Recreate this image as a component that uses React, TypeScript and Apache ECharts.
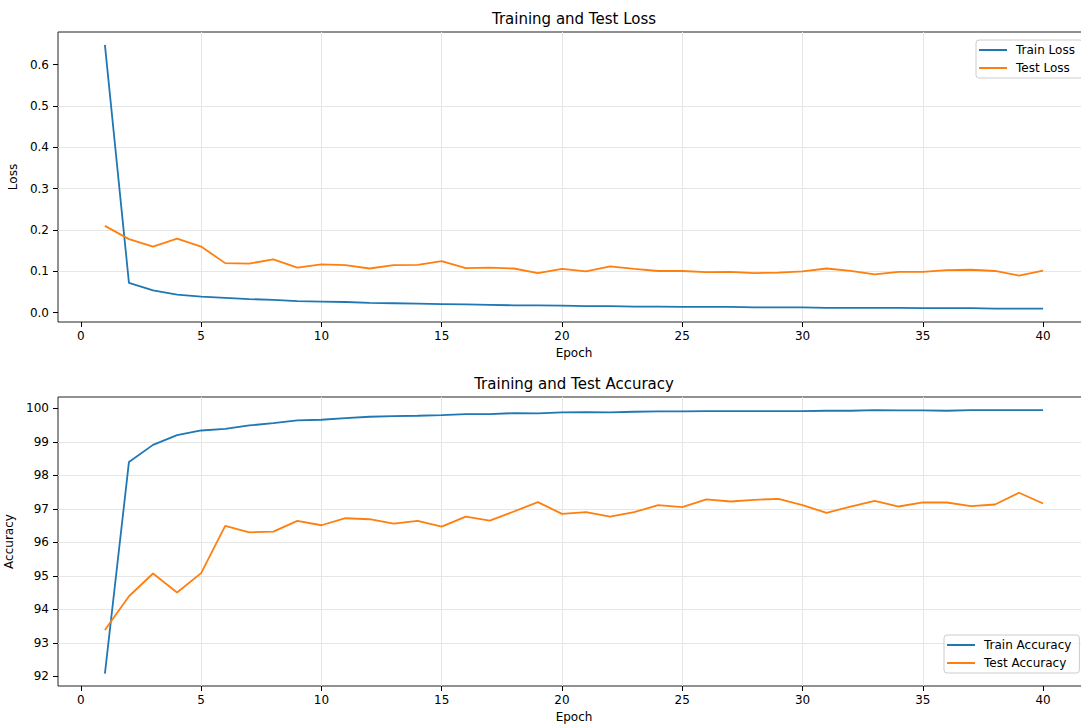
import React, { useEffect, useRef } from "react";
import * as echarts from "echarts";

const epochs = [1, 2, 3, 4, 5, 6, 7, 8, 9, 10, 11, 12, 13, 14, 15, 16, 17, 18, 19, 20, 21, 22, 23, 24, 25, 26, 27, 28, 29, 30, 31, 32, 33, 34, 35, 36, 37, 38, 39, 40];

const trainLoss = [0.648, 0.072, 0.054, 0.044, 0.039, 0.036, 0.033, 0.031, 0.028, 0.027, 0.026, 0.024, 0.023, 0.022, 0.021, 0.020, 0.019, 0.018, 0.018, 0.017, 0.016, 0.016, 0.015, 0.015, 0.014, 0.014, 0.014, 0.013, 0.013, 0.013, 0.012, 0.012, 0.012, 0.012, 0.011, 0.011, 0.011, 0.010, 0.010, 0.010];
const testLoss = [0.210, 0.178, 0.160, 0.179, 0.160, 0.120, 0.119, 0.129, 0.109, 0.117, 0.115, 0.107, 0.115, 0.116, 0.125, 0.108, 0.109, 0.107, 0.096, 0.106, 0.100, 0.112, 0.106, 0.101, 0.101, 0.098, 0.099, 0.096, 0.097, 0.100, 0.107, 0.101, 0.093, 0.099, 0.099, 0.103, 0.104, 0.101, 0.090, 0.102];

const trainAcc = [92.08, 98.40, 98.91, 99.20, 99.34, 99.39, 99.49, 99.56, 99.64, 99.66, 99.71, 99.75, 99.77, 99.78, 99.80, 99.83, 99.83, 99.86, 99.85, 99.88, 99.89, 99.88, 99.90, 99.91, 99.91, 99.92, 99.92, 99.92, 99.92, 99.92, 99.93, 99.93, 99.95, 99.94, 99.94, 99.93, 99.95, 99.95, 99.95, 99.95];
const testAcc = [93.38, 94.39, 95.07, 94.50, 95.08, 96.49, 96.30, 96.32, 96.64, 96.51, 96.72, 96.69, 96.56, 96.64, 96.47, 96.77, 96.65, 96.92, 97.20, 96.85, 96.90, 96.77, 96.90, 97.11, 97.05, 97.28, 97.22, 97.27, 97.30, 97.11, 96.88, 97.07, 97.24, 97.07, 97.19, 97.19, 97.08, 97.13, 97.48, 97.16];

const xTicks = [0, 5, 10, 15, 20, 25, 30, 35, 40];
const lossTicks = [0, 0.1, 0.2, 0.3, 0.4, 0.5, 0.6];
const accTicks = [92, 93, 94, 95, 96, 97, 98, 99, 100];

const FONT = "DejaVu Sans";
const BLUE = "#1f77b4";
const ORANGE = "#ff7f0e";
const GRIDLINE = "#e6e6e6";

function pairs(ys: number[]) {
  return epochs.map((e, i) => [e, ys[i]]);
}

export default function App() {
  const ref = useRef<HTMLDivElement>(null);

  useEffect(() => {
    if (!ref.current) return;
    const chart = echarts.init(ref.current, undefined, { renderer: "svg" });

    const textBase = { fontFamily: FONT, fontSize: 12, color: "#000" };

    const makeX = (gi: number) => ({
      type: "value",
      gridIndex: gi,
      min: -0.95,
      max: 41.95,
      name: "Epoch",
      nameLocation: "middle",
      nameGap: 25,
      nameTextStyle: { ...textBase },
      axisLine: { show: false, onZero: false },
      axisTick: { show: true, length: 5, lineStyle: { color: "#000", width: 1 }, customValues: xTicks },
      axisLabel: { ...textBase, margin: 8, customValues: xTicks },
      splitLine: { show: true, showMinLine: false, showMaxLine: false, lineStyle: { color: GRIDLINE, width: 1 } },
    });

    const makeY = (gi: number, min: number, max: number, ticks: number[], name: string, gap: number, fmt: (v: number) => string) => ({
      type: "value",
      gridIndex: gi,
      min,
      max,
      name,
      nameLocation: "middle",
      nameGap: gap,
      nameTextStyle: { ...textBase },
      axisLine: { show: false, onZero: false },
      axisTick: { show: true, length: 5, lineStyle: { color: "#000", width: 1 }, customValues: ticks },
      axisLabel: { ...textBase, margin: 9, customValues: ticks, formatter: fmt },
      splitLine: { show: true, showMinLine: false, showMaxLine: false, lineStyle: { color: GRIDLINE, width: 1 } },
    });

    const legendBase = {
      orient: "vertical",
      icon: "rect",
      itemWidth: 28,
      itemHeight: 2,
      itemGap: 6,
      padding: [4, 8, 4, 3],
      borderColor: "#cccccc",
      borderWidth: 1,
      borderRadius: 3,
      backgroundColor: "rgba(255,255,255,0.8)",
      textStyle: { ...textBase, padding: [0, 0, 0, 4] },
    };

    const lineSeries = (name: string, ys: number[], color: string, gi: number) => ({
      type: "line",
      name,
      xAxisIndex: gi,
      yAxisIndex: gi,
      data: pairs(ys),
      symbol: "none",
      showSymbol: false,
      lineStyle: { width: 1.8, color },
      itemStyle: { color },
      clip: true,
    });

    const gridBase = {
      left: 58,
      width: 1032,
      show: true,
      borderColor: "#222",
      borderWidth: 1,
      backgroundColor: "transparent",
      containLabel: false,
      outerBoundsMode: "none",
    };

    chart.setOption({
      animation: false,
      backgroundColor: "#ffffff",
      title: [
        {
          text: "Training and Test Loss",
          left: 574,
          top: 11,
          textAlign: "center",
          padding: 0,
          textStyle: { fontFamily: FONT, fontSize: 15, fontWeight: "normal", color: "#000" },
        },
        {
          text: "Training and Test Accuracy",
          left: 574,
          top: 376,
          textAlign: "center",
          padding: 0,
          textStyle: { fontFamily: FONT, fontSize: 15, fontWeight: "normal", color: "#000" },
        },
      ],
      legend: [
        { ...legendBase, data: ["Train Loss", "Test Loss"], left: 976, top: 40 },
        { ...legendBase, data: ["Train Accuracy", "Test Accuracy"], left: 944, top: 635 },
      ],
      grid: [
        { ...gridBase, top: 32, height: 290 },
        { ...gridBase, top: 397, height: 289 },
      ],
      xAxis: [makeX(0), makeX(1)],
      yAxis: [
        makeY(0, -0.0224, 0.679, lossTicks, "Loss", 35, (v: number) => v.toFixed(1)),
        makeY(1, 91.71, 100.34, accTicks, "Accuracy", 40, (v: number) => String(Math.round(v))),
      ],
      series: [
        lineSeries("Train Loss", trainLoss, BLUE, 0),
        lineSeries("Test Loss", testLoss, ORANGE, 0),
        lineSeries("Train Accuracy", trainAcc, BLUE, 1),
        lineSeries("Test Accuracy", testAcc, ORANGE, 1),
      ],
    });

    return () => chart.dispose();
  }, []);

  return (
    <div style={{ position: "fixed", left: 0, top: 0, width: 1081, height: 724, overflow: "hidden", background: "#fff" }}>
      <div ref={ref} style={{ width: 1100, height: 724 }} />
    </div>
  );
}
